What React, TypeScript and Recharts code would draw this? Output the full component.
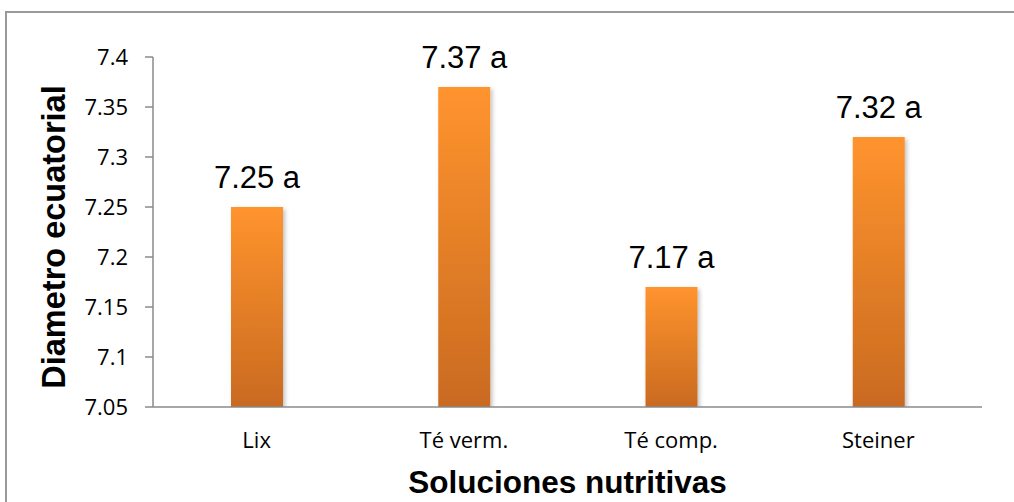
import { BarChart, Bar, XAxis, YAxis, LabelList, Label } from "recharts"

// Soluciones nutritivas vs diámetro ecuatorial
const categories = ["Lix", "Té verm.", "Té comp.", "Steiner"]
const diametro = [7.25, 7.37, 7.17, 7.32]
const letras = ["a", "a", "a", "a"]
const yTicks = [7.05, 7.1, 7.15, 7.2, 7.25, 7.3, 7.35, 7.4]

const data = categories.map((name, i) => ({
  name,
  value: diametro[i],
  label: `${diametro[i]} ${letras[i]}`,
}))

const AXIS = "#8a8a8a"
const SANS = "'Liberation Sans', Arial, sans-serif"
const TICK_FONT = "'Open Sans', 'Noto Sans', sans-serif"

function ShadowBar(props: any) {
  const { x, y, width, height } = props
  if (height <= 0) return null
  return (
    <rect
      x={x}
      y={y}
      width={width}
      height={height}
      fill="url(#barGrad)"
      filter="url(#barShadow)"
    />
  )
}

function YTitle({ viewBox }: any) {
  const cx = 65
  const cy = viewBox.y + viewBox.height / 2 + 5
  return (
    <text
      x={cx}
      y={cy}
      transform={`rotate(-90, ${cx}, ${cy})`}
      textAnchor="middle"
      fontFamily={SANS}
      fontWeight="bold"
      fontSize={32.5}
      fill="#000"
    >
      Diametro ecuatorial
    </text>
  )
}

function XTitle({ viewBox }: any) {
  return (
    <text
      x={viewBox.x + viewBox.width / 2}
      y={493}
      textAnchor="middle"
      fontFamily={SANS}
      fontWeight="bold"
      fontSize={31.5}
      fill="#000"
    >
      Soluciones nutritivas
    </text>
  )
}

export default function App() {
  return (
    <div style={{ position: "relative", width: 1014, height: 502, overflow: "hidden", background: "#fff" }}>
      <style>{"body{margin:0}"}</style>
      <div
        style={{
          position: "absolute",
          left: 5,
          top: 11,
          width: 1100,
          height: 600,
          border: "2px solid #9a9a9a",
          boxSizing: "border-box",
        }}
      />
      <BarChart
        width={1014}
        height={502}
        data={data}
        margin={{ top: 57, right: 32, bottom: 35, left: 73 }}
        style={{ position: "absolute", left: 0, top: 0 }}
      >
        <defs>
          <linearGradient id="barGrad" x1="0" y1="0" x2="0" y2="1">
            <stop offset="0%" stopColor="#ff942e" />
            <stop offset="100%" stopColor="#c96a20" />
          </linearGradient>
          <filter id="barShadow" x="-20%" y="-5%" width="150%" height="115%">
            <feDropShadow dx="2" dy="2" stdDeviation="2" floodColor="#000" floodOpacity="0.25" />
          </filter>
        </defs>
        <XAxis
          dataKey="name"
          height={60}
          tickLine={false}
          tickSize={0}
          tickMargin={25}
          axisLine={{ stroke: AXIS, strokeWidth: 1.5 }}
          tick={{ fill: "#000", fontSize: 22, fontFamily: TICK_FONT }}
        >
          <Label content={<XTitle />} />
        </XAxis>
        <YAxis
          width={80}
          domain={[7.05, 7.4]}
          ticks={yTicks}
          tickSize={8}
          tickMargin={17}
          axisLine={{ stroke: AXIS, strokeWidth: 1.5 }}
          tickLine={{ stroke: AXIS, strokeWidth: 1.5 }}
          tick={{ fill: "#000", fontSize: 22, fontFamily: TICK_FONT }}
          allowDataOverflow
        >
          <Label content={<YTitle />} />
        </YAxis>
        <Bar dataKey="value" barSize={52} shape={<ShadowBar />} isAnimationActive={false}>
          <LabelList
            dataKey="label"
            position="top"
            offset={19}
            fill="#000"
            fontSize={31}
            fontFamily={SANS}
          />
        </Bar>
      </BarChart>
    </div>
  )
}
